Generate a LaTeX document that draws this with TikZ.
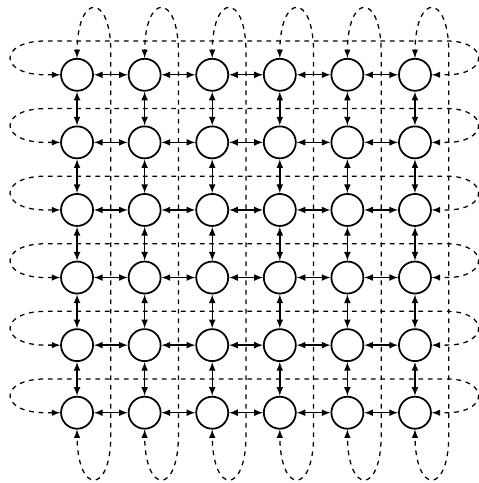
\documentclass[tikz,border=0pt]{standalone}
\usepackage{tikz}
\usetikzlibrary{shapes,arrows,positioning,calc}

\begin{document}
\begin{tikzpicture}[
    cell/.style={draw, circle, line width=1.1pt, minimum size=0.71cm, inner sep=0pt},
    link/.style={line width=0.9pt, <->, >=latex},
    wrap/.style={dashed, line width=0.8pt, <->, >=latex}
]
    \useasboundingbox (-1.71,1.66) rectangle (8.9,-9.06);
    % torus nodes
    \foreach \i in {0,...,5} {
        \foreach \j in {0,...,5} {
            \node[cell] (n\i\j) at (1.5*\i,-1.5*\j) {};
        }
    }
    % neighbour links
    \foreach \i [count=\k] in {0,...,4} {
        \foreach \j in {0,...,5} {
            \draw[link] (n\i\j) -- (n\k\j);
            \draw[link] (n\j\i) -- (n\j\k);
        }
    }
    % wrap-around of the rows
    \foreach \j in {0,...,5} {
        \pgfmathsetmacro\y{-1.5*\j}
        \pgfmathsetmacro\t{\y+0.75}
        \draw[wrap] (n0\j.west) -- (-0.7,\y) .. controls (-1.75,\y) and (-1.75,\t) .. (-0.7,\t)
            -- (8.2,\t) .. controls (9.15,\t) and (9.15,\y) .. (8.2,\y) -- (n5\j.east);
    }
    % wrap-around of the columns
    \foreach \i in {0,...,5} {
        \pgfmathsetmacro\x{1.5*\i}
        \pgfmathsetmacro\r{\x+0.75}
        \draw[wrap] (n\i0.north) -- (\x,0.5) .. controls (\x,1.83) and (\r,1.83) .. (\r,0.5)
            -- (\r,-8.0) .. controls (\r,-9.33) and (\x,-9.33) .. (\x,-8.0) -- (n\i5.south);
    }
\end{tikzpicture}
\end{document}
